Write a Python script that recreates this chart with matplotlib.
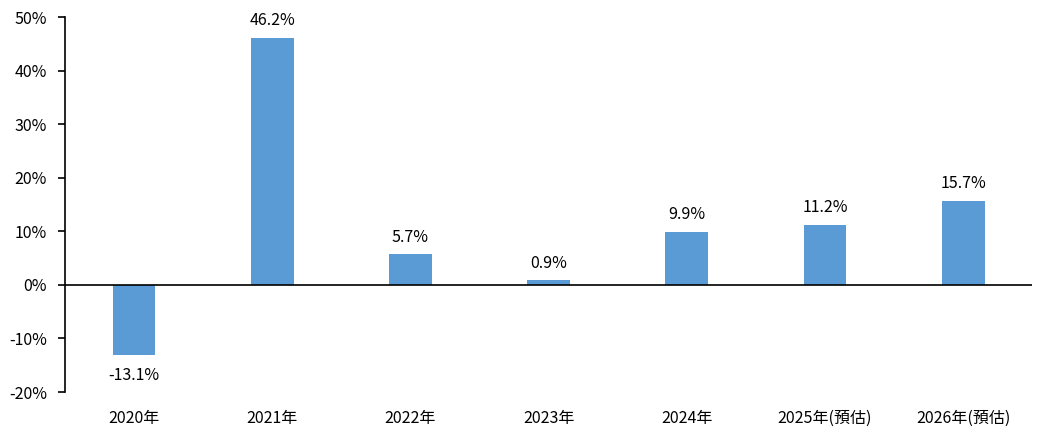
import matplotlib.pyplot as plt
from matplotlib.ticker import FuncFormatter

plt.rcParams['font.family'] = ['Noto Sans CJK TC', 'DejaVu Sans']

years = ["2020年", "2021年", "2022年", "2023年", "2024年", "2025年(預估)", "2026年(預估)"]
growth = [-13.1, 46.2, 5.7, 0.9, 9.9, 11.2, 15.7]

fig = plt.figure(figsize=(10.48, 4.4), dpi=100)
ax = fig.add_axes([0.062, 0.109, 0.923, 0.852])

x = range(len(years))
bars = ax.bar(x, growth, width=0.31, color="#5B9BD5", zorder=2)

for xi, v in zip(x, growth):
    if v >= 0:
        ax.text(xi, v + 1.6, f"{v:.1f}%", ha="center", va="bottom", fontsize=11.5)
    else:
        ax.text(xi, v - 2.3, f"{v:.1f}%", ha="center", va="top", fontsize=11.5)

ax.axhline(0, color="black", linewidth=1.2, zorder=3)

ax.set_xlim(-0.5, len(years) - 0.5)
ax.set_ylim(-20, 50)
ax.set_yticks(range(-20, 51, 10))
ax.yaxis.set_major_formatter(FuncFormatter(lambda v, p: f"{v:.0f}%"))
ax.set_xticks(list(x))
ax.set_xticklabels(years)

for s in ["top", "right", "bottom"]:
    ax.spines[s].set_visible(False)
ax.spines["left"].set_linewidth(1.2)
ax.tick_params(axis="y", length=5, width=1.2, labelsize=11.5, pad=8)
ax.tick_params(axis="x", length=0, labelsize=11.5, pad=13)

fig.savefig("out.png", dpi=100)
